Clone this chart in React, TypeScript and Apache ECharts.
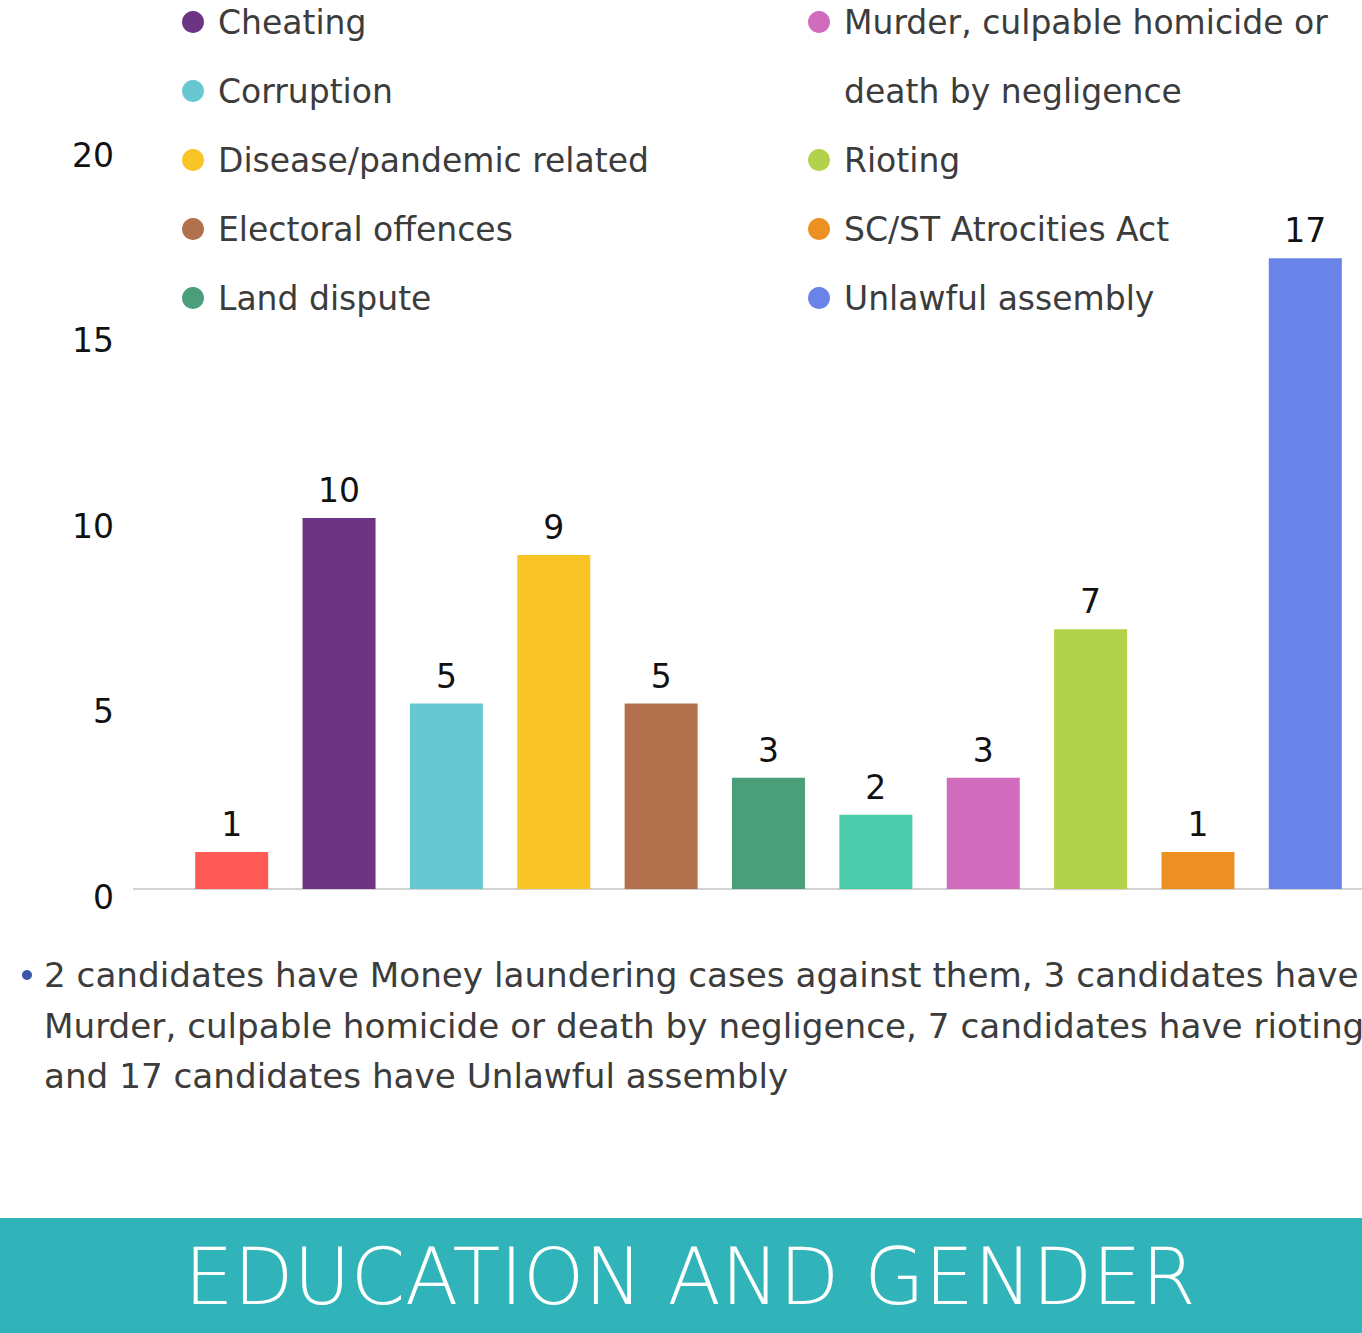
import React, { useEffect, useRef } from "react";
import * as echarts from "echarts";

const categories = [
  "Assault",
  "Cheating",
  "Corruption",
  "Disease/pandemic related",
  "Electoral offences",
  "Land dispute",
  "Money laundering",
  "Murder, culpable homicide or death by negligence",
  "Rioting",
  "SC/ST Atrocities Act",
  "Unlawful assembly",
];
const values = [1, 10, 5, 9, 5, 3, 2, 3, 7, 1, 17];
const colors = [
  "#FF5A55",
  "#6C3483",
  "#67C8D1",
  "#F9C425",
  "#B3704C",
  "#4A9F7A",
  "#4BCBAA",
  "#D06BBD",
  "#B3D24B",
  "#EC9023",
  "#6983E8",
];
const yMin = 0;
const yMax = 20;
const yInterval = 5;
const legendLeftNames = [
  "Cheating",
  "Corruption",
  "Disease/pandemic related",
  "Electoral offences",
  "Land dispute",
];
const legendRightNames = [
  "Murder, culpable homicide or death by negligence",
  "Rioting",
  "SC/ST Atrocities Act",
  "Unlawful assembly",
];
const murderName = "Murder, culpable homicide or death by negligence";
const murderLabel = "\nMurder, culpable homicide or\ndeath by negligence";
const noteLines = [
  "2 candidates have Money laundering cases against them, 3 candidates have",
  "Murder, culpable homicide or death by negligence, 7 candidates have rioting,",
  "and 17 candidates have Unlawful assembly",
];
const bannerTitle = "EDUCATION AND GENDER";

const FONT = "'DejaVu Sans', sans-serif";

export default function App() {
  const ref = useRef<HTMLDivElement>(null);

  useEffect(() => {
    document.body.style.margin = "0";
    if (!ref.current) return;
    const chart = echarts.init(ref.current, undefined, { renderer: "svg" });

    const series = categories.map((name, i) => ({
      name,
      type: "bar",
      stack: "all",
      barWidth: 73,
      data: values.map((v, j) => (j === i ? v : "-")),
      itemStyle: { color: colors[i] },
      label: {
        show: true,
        position: "top",
        distance: 11,
        fontSize: 33,
        color: "#111111",
        fontFamily: FONT,
      },
    }));

    const legendText = {
      fontSize: 33,
      lineHeight: 69,
      color: "#3c3c3c",
      fontFamily: FONT,
    };

    chart.setOption({
      animation: false,
      grid: { left: 178, right: 3, top: 147, bottom: 444 },
      xAxis: {
        type: "category",
        data: categories,
        axisLine: { show: false },
        axisTick: { show: false },
        axisLabel: { show: false },
      },
      yAxis: {
        type: "value",
        min: yMin,
        max: yMax,
        interval: yInterval,
        axisLine: { show: false },
        axisTick: { show: false },
        splitLine: { show: false },
        axisLabel: {
          fontSize: 33,
          color: "#111111",
          fontFamily: FONT,
          margin: 64,
          verticalAlign: "top",
          lineHeight: 16,
        },
      },
      legend: [
        {
          orient: "vertical",
          left: 182,
          top: -12.5,
          padding: 0,
          itemGap: 0,
          itemWidth: 40,
          itemHeight: 22,
          icon: "circle",
          selectedMode: false,
          data: legendLeftNames,
          textStyle: legendText,
        },
        {
          orient: "vertical",
          left: 808,
          top: -81.5,
          padding: 0,
          itemGap: 0,
          itemWidth: 40,
          itemHeight: 22,
          icon: "circle",
          selectedMode: false,
          data: legendRightNames,
          formatter: (name: string) => (name === murderName ? murderLabel : name),
          textStyle: legendText,
        },
      ],
      series,
    });

    const y0 = chart.convertToPixel({ yAxisIndex: 0 } as any, 0) as number;

    chart.setOption({
      graphic: [
        {
          type: "line",
          z: 0,
          shape: { x1: 133, y1: y0, x2: 1362, y2: y0 },
          style: { stroke: "#d2d2d2", lineWidth: 2 },
        },
        {
          type: "circle",
          shape: { cx: 27, cy: 975, r: 5 },
          style: { fill: "#3A56A6" },
        },
        {
          type: "text",
          x: 44,
          y: 950,
          style: {
            text: noteLines.join("\n"),
            fontSize: 34.2,
            lineHeight: 50.5,
            fontFamily: FONT,
            fill: "#3c3c3c",
            align: "left",
            verticalAlign: "top",
          },
        },
        {
          type: "rect",
          shape: { x: 0, y: 1218, width: 1362, height: 115 },
          style: { fill: "#30B4BA" },
        },
        {
          type: "text",
          x: 690,
          y: 1277,
          style: {
            text: bannerTitle,
            fontSize: 78,
            fontWeight: 200,
            fontFamily: FONT,
            fill: "#ffffff",
            align: "center",
            verticalAlign: "middle",
          },
        },
      ],
    });

    return () => chart.dispose();
  }, []);

  return <div ref={ref} style={{ width: 1362, height: 1333 }} />;
}
